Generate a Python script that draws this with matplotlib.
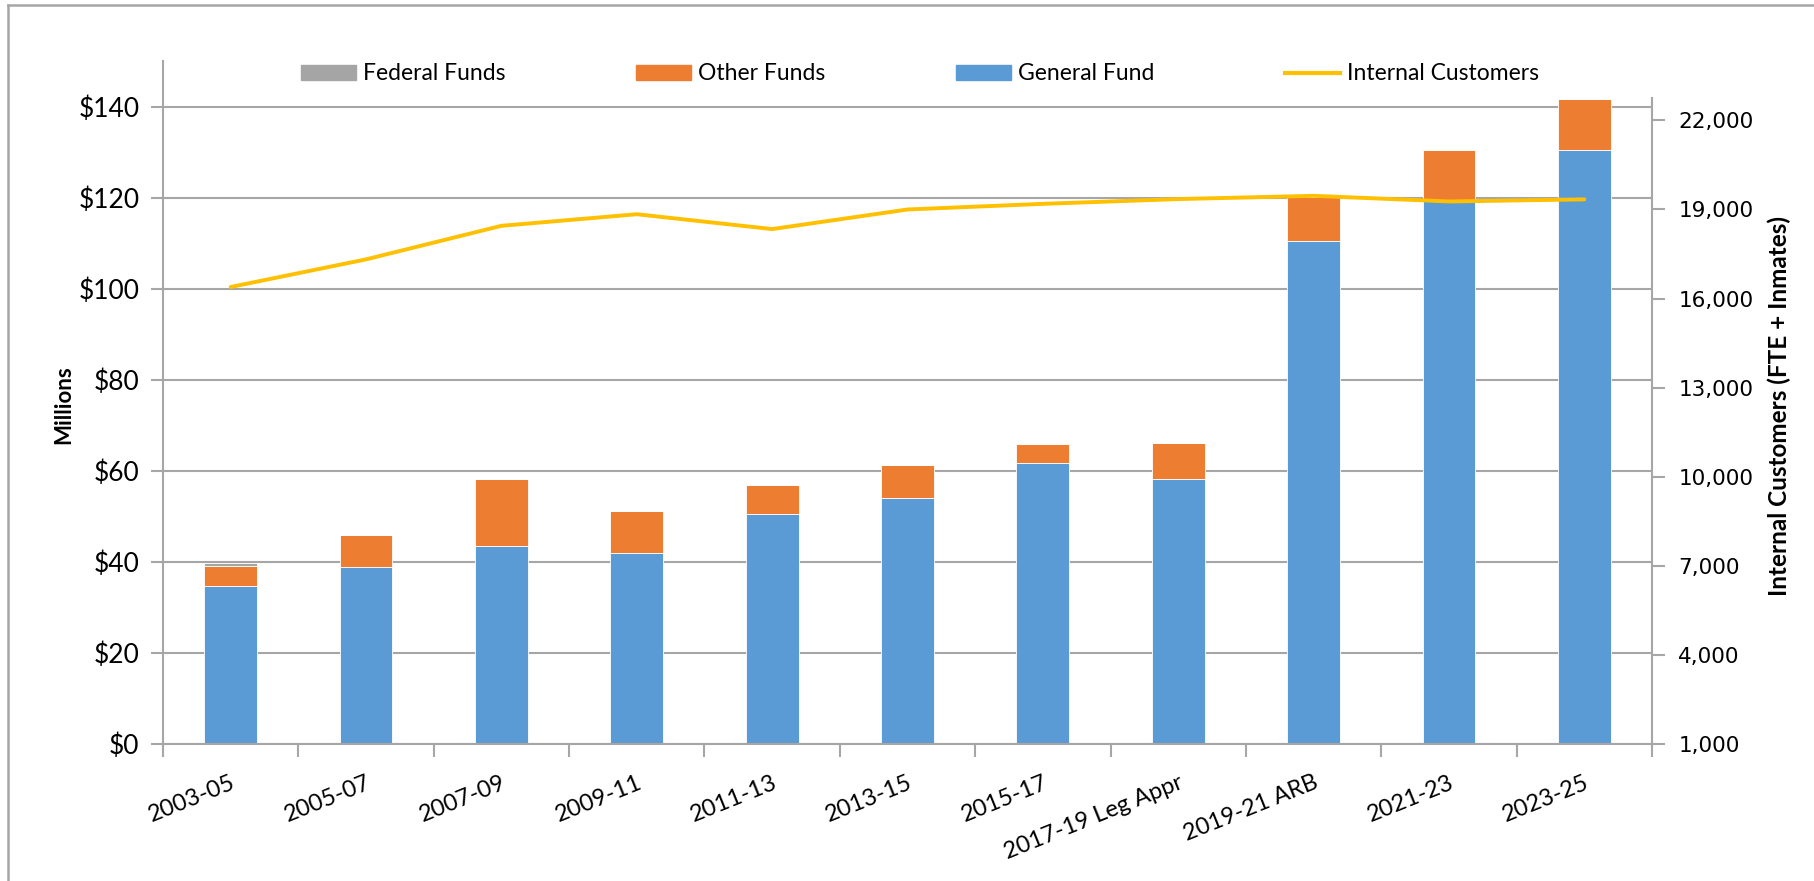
import matplotlib
matplotlib.use("Agg")
import matplotlib.pyplot as plt
import numpy as np
from matplotlib.lines import Line2D
from matplotlib.patches import Patch
from matplotlib.ticker import FuncFormatter
from matplotlib.transforms import ScaledTranslation

# Biennium data: dollars in millions, customers as FTE + inmates
biennia = ["2003-05", "2005-07", "2007-09", "2009-11", "2011-13", "2013-15",
           "2015-17", "2017-19 Leg Appr", "2019-21 ARB", "2021-23", "2023-25"]
general_fund = [34.6, 38.8, 43.4, 42.0, 50.6, 54.1, 61.7, 58.2, 110.5, 119.2, 130.4]
other_funds = [4.4, 7.0, 14.8, 9.1, 6.3, 7.1, 4.1, 7.9, 9.7, 11.2, 11.3]
federal_funds = [0.7, 0, 0, 0, 0, 0, 0, 0, 0, 0, 0]
internal_customers = [16390, 17320, 18450, 18840, 18340, 19000,
                      19190, 19350, 19460, 19270, 19340]

left_ticks = [0, 20, 40, 60, 80, 100, 120, 140]
right_ticks = [1000, 4000, 7000, 10000, 13000, 16000, 19000, 22000]

BLUE = "#5B9BD5"
ORANGE = "#ED7D31"
GRAY = "#A5A5A5"
GOLD = "#FFC000"
AXIS = "#A6A6A6"

plt.rcParams["font.family"] = ["Lato", "DejaVu Sans"]

fig = plt.figure(figsize=(18.15, 8.81), dpi=100)
ax = fig.add_axes([163 / 1815, 137 / 881, (1652 - 163) / 1815, (820 - 137) / 881])

x = np.arange(len(biennia))
gf = np.array(general_fund)
of = np.array(other_funds)
ff = np.array(federal_funds)
w = 0.39

ax.bar(x, gf, w, color=BLUE, edgecolor="white", linewidth=0.6, zorder=2)
ax.bar(x, of, w, bottom=gf, color=ORANGE, edgecolor="white", linewidth=0.6, zorder=2)
ax.bar(x, ff, w, bottom=gf + of, color=GRAY, edgecolor="white", linewidth=0.6, zorder=2)

ax.set_xlim(-0.5, len(biennia) - 0.5)
ax.set_ylim(0, 150)
ax.set_yticks(left_ticks)
ax.yaxis.set_major_formatter(FuncFormatter(lambda v, p: f"${v:.0f}"))
ax.yaxis.grid(True, color=AXIS, linewidth=1.5)
ax.set_axisbelow(True)

# category ticks sit between the bars
ax.set_xticks(np.arange(-0.5, len(biennia), 1.0))
ax.set_xticklabels([])
ax.set_xticks(x, minor=True)
ax.set_xticklabels(biennia, minor=True, rotation=22, ha="right", va="top",
                   rotation_mode="anchor", fontsize=17)
shift = ScaledTranslation(7 / 100, 0, fig.dpi_scale_trans)
for lbl in ax.get_xticklabels(minor=True):
    lbl.set_transform(lbl.get_transform() + shift)
ax.tick_params(axis="x", which="minor", length=0, pad=20)
ax.tick_params(axis="x", which="major", length=9, width=1.5, color=AXIS)
ax.tick_params(axis="y", length=9, width=1.5, color=AXIS, labelsize=19, pad=8)

for side in ["top", "right"]:
    ax.spines[side].set_visible(False)
for side in ["left", "bottom"]:
    ax.spines[side].set_color(AXIS)
    ax.spines[side].set_linewidth(1.5)

ax2 = ax.twinx()
ax2.plot(x, internal_customers, color=GOLD, linewidth=2.8, solid_capstyle="round", zorder=3)
ax2.set_ylim(1000, 24000)
ax2.set_yticks(right_ticks)
ax2.yaxis.set_major_formatter(FuncFormatter(lambda v, p: f"{v:,.0f}"))
ax2.tick_params(axis="y", length=9, width=1.5, color=AXIS, pad=10)
for lbl in ax2.get_yticklabels():
    lbl.set_fontfamily("DejaVu Sans")
    lbl.set_fontsize(15.5)
for side in ["top", "left", "bottom"]:
    ax2.spines[side].set_visible(False)
ax2.spines["right"].set_color(AXIS)
ax2.spines["right"].set_linewidth(1.5)
ax2.spines["right"].set_bounds(1000, 22750)

fig.text(64 / 1815, 1 - 405 / 881, "Millions", rotation=90, ha="center", va="center",
         fontsize=16, fontweight="bold")
fig.text(1779 / 1815, 1 - 406 / 881, "Internal Customers (FTE + Inmates)", rotation=90,
         ha="center", va="center", fontsize=17.5, fontweight="bold")

handles = [Patch(color=GRAY), Patch(color=ORANGE), Patch(color=BLUE),
           Line2D([], [], color=GOLD, linewidth=3)]
labels = ["Federal Funds", "Other Funds", "General Fund", "Internal Customers"]
fig.legend(handles, labels, ncol=4, loc="center", bbox_to_anchor=(0.507, 1 - 74 / 881),
           frameon=False, fontsize=16.5, handlelength=2.4, handleheight=0.6,
           handletextpad=0.3, columnspacing=5.7)

# chart area border, top and left edges
fig.add_artist(Line2D([8 / 1815, 1], [1 - 5 / 881, 1 - 5 / 881], color=AXIS, linewidth=1.8))
fig.add_artist(Line2D([8 / 1815, 8 / 1815], [0, 1 - 5 / 881], color=AXIS, linewidth=1.8))

fig.savefig("out.png", dpi=100)
